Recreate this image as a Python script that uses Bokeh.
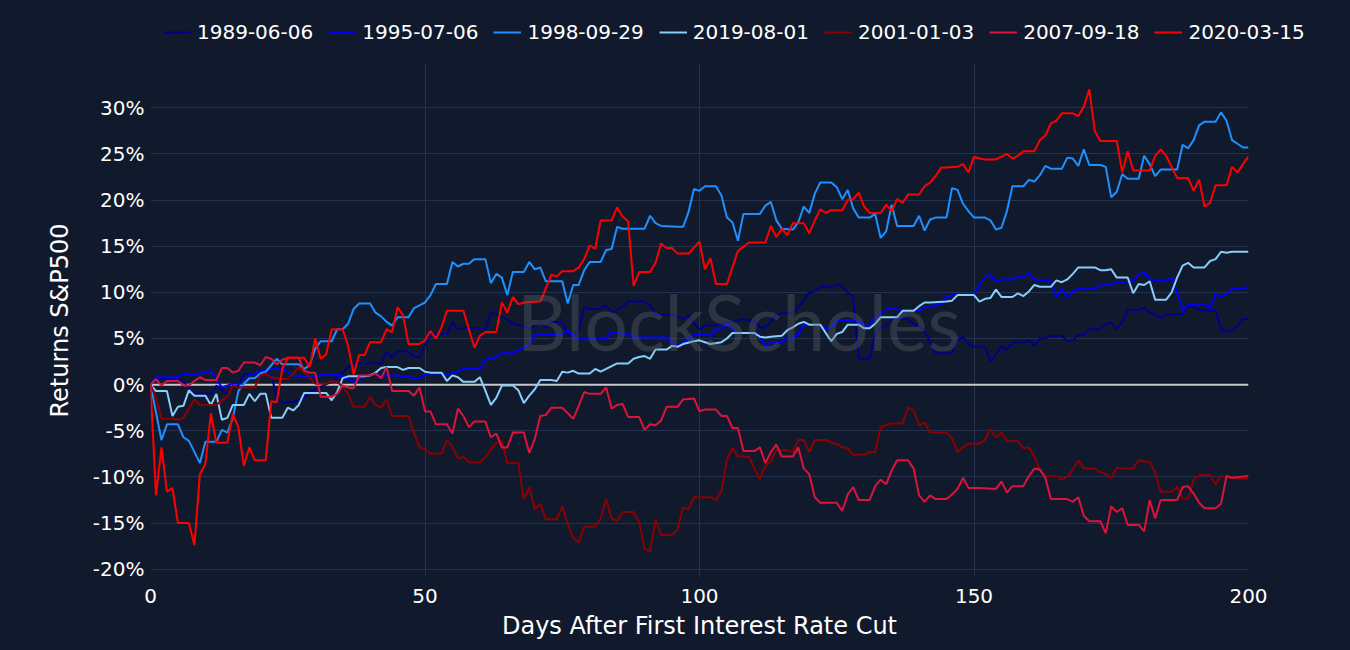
from bokeh.plotting import figure
from bokeh.layouts import column
from bokeh.models import (Legend, LegendItem, Span, Label, PrintfTickFormatter,
                          FixedTicker, Range1d)
from bokeh.embed import file_html
from bokeh.resources import INLINE

BG = "#111a2c"
GRID = "#25324f"
FONT = "DejaVu Sans"

series_names = ["1989-06-06", "1995-07-06", "1998-09-29", "2019-08-01",
                "2001-01-03", "2007-09-18", "2020-03-15"]
series_colors = ["#00008B", "#0000FF", "#1E90FF", "#87CEFA",
                 "#8B0000", "#DC143C", "#FF0000"]

x_ticks = [0, 50, 100, 150, 200]
y_ticks = [-20, -15, -10, -5, 0, 5, 10, 15, 20, 25, 30]

days_1989 = [0, 1, 5, 6, 8, 11, 12, 14, 15, 16, 17, 20, 22, 23, 24, 26, 28, 29, 30, 33, 35, 36, 38, 40, 41, 42, 43, 44, 45, 47, 48, 49, 50, 51, 54, 55, 56, 58, 61, 62, 63, 65, 66, 68, 69, 70, 71, 72, 73, 75, 76, 77, 78, 79, 80, 82, 83, 84, 85, 86, 87, 90, 91, 92, 95, 96, 97, 98, 99, 100, 101, 103, 104, 106, 108, 110, 111, 112, 113, 114, 115, 117, 118, 119, 120, 121, 122, 124, 125, 126, 127, 128, 129, 131, 132, 133, 134, 135, 138, 139, 140, 141, 142, 143, 146, 147, 148, 149, 150, 152, 153, 154, 155, 156, 157, 159, 160, 161, 162, 163, 164, 166, 167, 168, 169, 170, 171, 173, 174, 175, 176, 177, 178, 180, 181, 182, 183, 184, 185, 188, 189, 190, 191, 192, 194, 195, 196, 197, 198, 199, 200]
ret_1989 = [0, 0.6, 0.6, 0.3, -1.0, -1.0, -0.1, -1.0, -0.3, -0.1, 1.1, 1.2, 1.1, -1.4, -1.9, -1.9, -1.4, -0.8, -0.5, 0.3, 1.3, 1.9, 2.3, 2.3, 2.4, 2.2, 3.6, 2.9, 3.6, 3.6, 3.0, 3.0, 4.2, 5.4, 5.5, 6.8, 6.0, 6.2, 6.0, 7.7, 7.7, 7.0, 6.6, 6.3, 6.0, 6.4, 6.7, 6.2, 6.8, 6.8, 5.5, 5.3, 5.9, 8.4, 8.2, 8.2, 8.6, 7.8, 8.1, 8.4, 9.0, 9.0, 8.6, 7.6, 7.6, 7.4, 7.1, 7.5, 6.6, 6.0, 6.4, 6.4, 6.6, 6.8, 7.1, 6.9, 6.2, 6.2, 6.8, 7.6, 7.7, 7.8, 8.4, 9.1, 10.0, 10.1, 10.6, 10.6, 10.9, 10.7, 10.0, 9.5, 2.8, 2.8, 5.5, 6.2, 6.4, 7.1, 7.1, 6.6, 6.3, 5.9, 4.6, 3.4, 3.4, 4.8, 5.2, 4.4, 4.1, 4.1, 2.5, 3.3, 4.2, 3.8, 4.6, 4.6, 4.8, 4.2, 5.0, 5.0, 5.3, 5.3, 4.7, 4.8, 5.4, 5.4, 6.0, 6.0, 6.6, 6.7, 6.0, 6.8, 8.1, 8.1, 8.3, 7.8, 7.6, 7.2, 7.6, 7.6, 8.6, 8.4, 8.1, 8.0, 8.0, 6.0, 5.7, 5.9, 6.4, 7.1, 7.1]

days_1995 = [0, 1, 5, 6, 8, 11, 12, 13, 15, 17, 18, 19, 20, 22, 24, 25, 26, 28, 30, 32, 34, 36, 37, 38, 40, 41, 42, 45, 46, 47, 48, 49, 50, 51, 53, 54, 55, 56, 57, 60, 61, 63, 64, 66, 67, 68, 69, 70, 74, 75, 76, 77, 78, 83, 84, 85, 87, 88, 94, 95, 96, 97, 98, 99, 101, 102, 103, 104, 105, 106, 107, 110, 111, 112, 113, 115, 116, 117, 118, 119, 122, 123, 124, 125, 126, 129, 130, 131, 132, 133, 134, 136, 137, 140, 141, 142, 144, 145, 146, 150, 151, 152, 153, 154, 155, 157, 158, 159, 160, 161, 164, 165, 166, 167, 168, 169, 172, 173, 175, 176, 178, 179, 180, 181, 182, 183, 185, 186, 187, 188, 189, 192, 193, 194, 195, 196, 197, 199, 200]
ret_1995 = [0, 0.8, 0.8, 1.2, 1.1, 1.5, 0.6, -0.3, 0.1, 0.1, 1.0, 1.2, 1.5, 1.7, 1.7, 1.4, 1.0, 0.9, 0.9, 1.1, 1.1, 0.6, 0.3, 0.6, 1.0, 1.2, 1.0, 1.0, 0.8, 1.0, 0.6, 0.7, 1.1, 1.2, 1.2, 1.0, 1.3, 1.4, 1.7, 1.7, 2.7, 3.0, 3.4, 3.4, 3.7, 4.0, 4.4, 5.4, 5.4, 5.5, 5.9, 5.2, 5.0, 5.0, 5.7, 5.6, 5.5, 5.1, 5.1, 4.5, 4.2, 4.5, 5.0, 5.4, 5.4, 5.3, 6.0, 6.0, 6.6, 6.0, 5.7, 5.7, 5.3, 4.1, 4.6, 4.6, 5.1, 5.0, 5.5, 6.5, 6.5, 6.0, 6.2, 6.9, 7.0, 7.0, 6.4, 6.4, 7.3, 7.7, 8.2, 8.2, 8.0, 8.0, 8.4, 8.5, 8.7, 9.5, 9.7, 9.7, 10.9, 11.6, 11.9, 11.2, 11.4, 11.4, 11.7, 11.6, 12.1, 11.4, 11.2, 9.5, 10.4, 9.4, 10.1, 10.4, 10.4, 10.8, 10.8, 11.1, 11.1, 11.2, 12.0, 12.1, 11.5, 11.3, 11.3, 11.6, 10.0, 8.0, 8.7, 8.7, 8.3, 9.8, 9.5, 9.8, 10.4, 10.4, 10.6]

days_1998 = [0, 2, 3, 5, 6, 7, 9, 10, 12, 13, 14, 15, 16, 17, 18, 19, 20, 21, 22, 23, 24, 27, 28, 29, 30, 31, 33, 34, 35, 36, 37, 38, 40, 41, 42, 43, 44, 45, 47, 48, 49, 50, 51, 52, 54, 55, 56, 57, 58, 59, 61, 62, 63, 64, 65, 66, 68, 69, 70, 71, 72, 75, 76, 77, 78, 79, 80, 82, 83, 84, 85, 86, 90, 91, 92, 93, 96, 97, 98, 99, 100, 101, 103, 104, 105, 106, 107, 108, 111, 112, 113, 114, 115, 117, 118, 119, 120, 121, 122, 124, 125, 126, 127, 128, 129, 131, 132, 133, 134, 135, 136, 139, 140, 141, 142, 143, 145, 146, 147, 148, 149, 150, 152, 153, 154, 155, 156, 157, 159, 160, 161, 162, 163, 164, 166, 167, 168, 169, 170, 171, 173, 174, 175, 176, 177, 178, 180, 181, 182, 183, 184, 187, 188, 189, 190, 191, 192, 194, 195, 196, 197, 198, 199, 200]
ret_1998 = [0, -6.0, -4.3, -4.3, -5.7, -6.1, -8.5, -6.2, -6.2, -4.9, -5.2, -3.6, -0.7, 0.1, 0.7, 0.7, 1.2, 1.4, 2.1, 2.8, 2.2, 2.2, 1.7, 2.1, 3.9, 4.7, 4.7, 6.0, 6.0, 6.6, 8.2, 8.8, 8.8, 7.8, 7.4, 6.8, 6.4, 7.3, 7.3, 8.3, 8.6, 8.9, 9.7, 10.9, 10.9, 13.3, 12.8, 13.1, 13.1, 13.6, 13.6, 11.0, 12.0, 11.6, 9.7, 12.2, 12.2, 13.3, 12.5, 12.7, 11.2, 11.2, 8.8, 10.8, 10.8, 12.4, 13.3, 13.3, 14.6, 14.7, 17.1, 16.9, 16.9, 18.3, 17.5, 17.2, 17.1, 17.1, 18.7, 21.2, 21.0, 21.5, 21.5, 20.5, 18.1, 17.6, 15.6, 18.5, 18.5, 19.4, 19.8, 17.8, 16.9, 16.8, 17.6, 19.3, 18.6, 20.7, 21.9, 21.9, 21.4, 20.1, 21.1, 19.1, 18.1, 18.1, 18.5, 15.9, 16.6, 19.5, 17.2, 17.2, 18.3, 16.7, 17.9, 18.1, 18.1, 21.3, 21.1, 19.6, 18.8, 18.1, 18.1, 17.8, 16.8, 17.0, 18.8, 21.5, 21.5, 22.2, 22.0, 22.7, 23.7, 23.4, 23.4, 24.6, 24.5, 23.7, 25.5, 23.8, 23.8, 23.6, 20.3, 20.9, 22.8, 22.3, 22.3, 24.8, 23.9, 22.6, 23.3, 23.3, 26.0, 25.6, 26.5, 28.1, 28.5, 28.5, 29.5, 28.6, 26.5, 26.1, 25.7, 25.7]

days_2019 = [0, 1, 3, 4, 5, 6, 7, 8, 10, 11, 12, 13, 14, 15, 17, 18, 19, 20, 21, 22, 24, 25, 26, 27, 28, 32, 33, 34, 35, 36, 39, 40, 41, 42, 43, 45, 46, 47, 49, 50, 51, 53, 54, 55, 56, 57, 59, 60, 61, 62, 63, 64, 66, 67, 68, 69, 70, 71, 73, 74, 75, 76, 77, 78, 80, 81, 82, 83, 84, 85, 87, 88, 89, 90, 91, 92, 94, 95, 96, 97, 99, 100, 101, 102, 104, 105, 106, 110, 111, 112, 113, 115, 116, 117, 118, 119, 120, 122, 123, 124, 125, 126, 127, 129, 130, 131, 132, 133, 136, 137, 139, 140, 141, 142, 145, 146, 147, 150, 151, 152, 153, 154, 155, 157, 158, 159, 160, 161, 162, 164, 165, 166, 167, 168, 169, 172, 173, 174, 175, 176, 178, 179, 180, 181, 182, 183, 185, 186, 187, 188, 189, 190, 192, 193, 194, 195, 196, 197, 200]
ret_2019 = [0, -0.7, -0.7, -3.4, -2.4, -2.3, -0.6, -1.2, -1.2, -2.2, -1.0, -3.8, -3.6, -2.2, -2.2, -1.0, -1.8, -1.0, -1.0, -3.6, -3.6, -2.5, -2.8, -2.2, -0.9, -0.9, -1.7, -0.8, 0.7, 0.9, 0.9, 1.0, 1.3, 1.8, 1.9, 1.9, 1.6, 1.8, 1.8, 1.4, 1.3, 1.3, 0.4, 1.0, 0.8, 0.3, 0.3, 0.8, -0.65, -2.2, -1.4, -0.1, -0.1, -0.6, -2.0, -1.2, -0.5, 0.5, 0.5, 0.4, 1.4, 1.3, 1.5, 1.2, 1.2, 1.7, 1.4, 1.7, 2.0, 2.3, 2.3, 2.8, 3.0, 3.1, 2.8, 3.8, 3.8, 4.2, 4.1, 4.4, 4.7, 4.8, 4.6, 4.4, 4.6, 5.0, 5.6, 5.6, 5.2, 5.1, 5.2, 5.3, 5.9, 6.2, 6.6, 6.8, 6.5, 6.5, 5.6, 4.7, 5.5, 5.7, 6.5, 6.5, 6.1, 6.1, 6.6, 7.3, 7.3, 8.0, 8.0, 8.5, 8.9, 8.9, 9.0, 9.1, 9.7, 9.7, 9.0, 9.3, 9.4, 10.3, 9.5, 9.5, 9.9, 9.6, 10.1, 10.8, 10.6, 10.6, 11.3, 11.1, 11.4, 12.0, 12.7, 12.7, 12.4, 12.4, 12.5, 11.6, 11.6, 9.9, 10.9, 10.8, 11.2, 9.2, 9.2, 10.0, 11.6, 12.9, 13.2, 12.7, 12.7, 13.4, 13.6, 14.4, 14.3, 14.4, 14.4]

days_2001 = [0, 1, 2, 4, 5, 6, 7, 8, 9, 12, 13, 14, 15, 16, 19, 20, 21, 22, 24, 25, 26, 27, 28, 29, 30, 32, 33, 34, 35, 36, 37, 39, 40, 41, 42, 43, 44, 47, 48, 49, 50, 51, 53, 54, 55, 56, 57, 58, 60, 61, 62, 63, 64, 65, 67, 68, 69, 70, 71, 72, 74, 75, 76, 77, 78, 79, 81, 82, 83, 84, 85, 86, 88, 89, 90, 91, 92, 93, 95, 96, 97, 98, 99, 102, 103, 104, 105, 106, 107, 109, 110, 111, 112, 113, 114, 116, 117, 118, 119, 120, 121, 123, 124, 125, 126, 127, 128, 130, 131, 132, 133, 134, 135, 137, 138, 139, 140, 141, 142, 145, 146, 147, 148, 149, 151, 152, 153, 154, 155, 156, 158, 159, 160, 161, 162, 163, 165, 166, 167, 168, 169, 170, 172, 173, 174, 175, 176, 177, 179, 180, 182, 183, 184, 186, 187, 188, 189, 190, 191, 193, 194, 195, 196, 198, 200]
ret_2001 = [0, -1.4, -3.7, -3.7, -3.8, -3.6, -2.6, -1.6, -2.2, -2.2, -1.7, -1.3, -0.1, -0.3, -0.3, 1.0, 1.2, 0.8, 0.6, 0.6, 1.2, 1.9, 1.3, 0.8, 0.1, 0.1, 0.4, 0.3, -0.2, -1.0, -2.4, -2.4, -1.3, -2.2, -2.5, -1.6, -3.4, -3.4, -5.2, -6.8, -7.0, -7.5, -7.5, -6.0, -6.8, -8.0, -7.8, -8.4, -8.4, -7.9, -7.0, -6.3, -6.1, -8.5, -8.5, -12.4, -11.1, -13.5, -12.9, -14.6, -14.6, -13.2, -15.1, -16.6, -17.1, -15.4, -15.4, -14.5, -12.4, -14.5, -14.8, -13.8, -13.8, -14.9, -17.8, -18.1, -14.6, -16.3, -16.3, -15.7, -13.3, -13.5, -12.2, -12.2, -12.5, -11.5, -8.1, -6.9, -7.8, -7.8, -9.1, -10.2, -8.8, -8.3, -7.1, -7.1, -7.3, -6.0, -6.0, -7.3, -6.0, -6.0, -6.3, -6.4, -6.8, -6.9, -7.6, -7.6, -7.3, -7.3, -4.6, -4.4, -4.2, -4.2, -2.5, -2.8, -4.4, -4.1, -5.2, -5.2, -5.8, -7.3, -6.8, -6.4, -6.4, -6.0, -4.8, -5.7, -5.2, -6.1, -6.1, -6.9, -6.8, -7.8, -9.3, -9.9, -9.9, -10.3, -10.0, -9.2, -8.2, -9.1, -9.1, -9.5, -9.7, -10.1, -9.0, -9.1, -9.1, -8.2, -8.4, -9.5, -11.6, -11.6, -11.1, -12.3, -12.4, -10.3, -9.8, -9.8, -10.8, -9.9, -10.0, -10.2, -10.2]

days_2007 = [0, 1, 2, 3, 5, 6, 7, 8, 9, 10, 12, 13, 14, 15, 16, 17, 19, 20, 21, 22, 23, 24, 25, 27, 28, 29, 30, 31, 33, 34, 35, 36, 37, 38, 40, 41, 42, 43, 44, 47, 48, 49, 50, 51, 52, 54, 55, 56, 57, 58, 59, 61, 62, 63, 64, 65, 66, 68, 69, 70, 71, 72, 73, 75, 76, 77, 78, 79, 80, 82, 83, 84, 85, 86, 87, 89, 90, 91, 92, 93, 94, 96, 97, 99, 100, 101, 103, 104, 105, 106, 107, 108, 110, 111, 112, 113, 114, 115, 117, 118, 119, 120, 121, 122, 125, 126, 127, 128, 129, 131, 132, 133, 134, 135, 136, 138, 139, 140, 141, 142, 143, 145, 146, 147, 148, 149, 151, 154, 155, 156, 157, 159, 160, 161, 162, 163, 164, 167, 168, 169, 170, 171, 173, 174, 175, 176, 177, 178, 180, 181, 182, 183, 184, 187, 188, 189, 190, 191, 192, 194, 195, 196, 197, 200]
ret_2007 = [0, 0.6, -0.1, 0.4, 0.4, -0.1, -0.1, 0.4, 0.8, 0.5, 0.5, 1.8, 1.8, 1.3, 1.5, 2.4, 2.4, 2.1, 3.0, 2.8, 2.2, 2.7, 2.9, 2.9, 1.5, 1.3, 1.3, -1.3, -1.3, -1.0, -0.1, -0.3, -0.4, 1.0, 1.0, 1.2, 0.7, 1.9, -0.7, -0.7, -1.2, -0.3, -2.9, -2.9, -4.3, -4.3, -5.3, -2.6, -3.4, -4.6, -4.0, -4.0, -5.7, -5.3, -6.8, -6.8, -5.2, -5.2, -7.4, -5.9, -3.4, -3.3, -2.5, -2.5, -3.1, -3.7, -2.3, -0.8, -1.0, -1.0, -0.3, -2.6, -2.2, -2.1, -3.5, -3.5, -4.9, -4.3, -4.4, -3.9, -2.4, -2.4, -1.6, -1.5, -2.9, -2.7, -2.7, -3.4, -3.4, -4.7, -4.7, -7.2, -7.2, -6.8, -8.5, -7.3, -6.5, -7.8, -7.8, -6.8, -9.1, -9.7, -12.2, -12.8, -12.8, -13.7, -11.9, -11.1, -12.5, -12.5, -11.0, -10.3, -10.8, -9.3, -8.2, -8.2, -9.1, -12.0, -12.7, -12.0, -12.4, -12.4, -11.9, -11.3, -10.1, -11.2, -11.2, -11.3, -10.5, -11.7, -11.0, -11.0, -9.9, -9.1, -9.2, -10.1, -12.4, -12.4, -12.7, -12.2, -14.2, -14.8, -14.8, -16.1, -13.2, -13.8, -13.4, -15.2, -15.2, -15.9, -12.5, -14.5, -12.5, -12.5, -11.1, -11.0, -11.8, -12.8, -13.4, -13.4, -12.9, -9.9, -10.1, -9.9]

days_2020 = [0, 1, 2, 3, 4, 5, 7, 8, 9, 10, 11, 12, 14, 15, 16, 17, 18, 19, 21, 22, 23, 24, 25, 28, 29, 30, 31, 32, 33, 35, 36, 37, 38, 39, 40, 42, 43, 44, 45, 46, 47, 49, 50, 51, 52, 53, 54, 57, 58, 59, 60, 61, 63, 64, 65, 66, 67, 68, 71, 72, 73, 74, 75, 77, 78, 79, 80, 81, 82, 84, 85, 86, 87, 88, 89, 91, 92, 93, 94, 95, 96, 98, 100, 101, 102, 103, 105, 106, 107, 109, 112, 113, 114, 115, 116, 117, 119, 120, 121, 122, 123, 124, 126, 127, 128, 129, 130, 131, 133, 134, 135, 136, 137, 138, 140, 141, 142, 143, 144, 147, 148, 149, 150, 151, 152, 154, 155, 156, 157, 158, 159, 161, 162, 163, 164, 165, 166, 168, 169, 170, 171, 172, 173, 176, 177, 178, 179, 182, 183, 184, 185, 186, 187, 189, 190, 191, 192, 193, 194, 196, 197, 198, 199, 200]
ret_2020 = [0, -12.0, -6.8, -11.6, -11.2, -15.0, -15.0, -17.4, -9.7, -8.6, -3.1, -6.3, -6.3, -3.2, -4.6, -8.8, -6.8, -8.2, -8.2, -1.8, -1.9, 1.7, 2.9, 2.9, 1.9, 5.0, 2.8, 3.3, 6.0, 6.0, 4.2, 1.1, 3.2, 3.2, 4.6, 4.6, 6.0, 5.7, 8.4, 7.5, 4.4, 4.4, 4.8, 5.8, 5.0, 6.2, 8.0, 8.0, 6.0, 4.0, 5.3, 5.7, 5.7, 8.9, 7.8, 9.5, 8.7, 8.9, 9.0, 10.4, 11.9, 11.7, 12.3, 12.3, 12.7, 13.6, 15.1, 14.7, 17.8, 17.8, 19.2, 18.2, 17.7, 10.7, 12.2, 12.2, 13.2, 15.3, 14.8, 14.8, 14.2, 14.2, 15.5, 12.5, 13.7, 10.9, 10.9, 12.7, 14.5, 15.4, 15.4, 17.2, 16.0, 16.9, 16.2, 17.5, 17.5, 16.4, 17.8, 19.0, 18.6, 18.9, 18.9, 20.0, 20.1, 20.8, 19.3, 18.6, 18.6, 19.5, 18.8, 20.1, 19.7, 20.6, 20.6, 21.5, 21.9, 22.6, 23.5, 23.6, 23.9, 23.0, 24.7, 24.5, 24.4, 24.4, 24.7, 25.0, 24.5, 24.8, 25.3, 25.3, 26.5, 27.0, 28.3, 28.6, 29.4, 29.4, 29.1, 30.1, 32.0, 27.5, 26.4, 26.4, 23.0, 25.3, 23.2, 23.2, 24.8, 25.5, 24.8, 23.6, 22.4, 22.4, 21.0, 22.2, 19.3, 19.7, 21.6, 21.6, 23.6, 23.0, 23.9, 24.7]

all_days = [days_1989, days_1995, days_1998, days_2019, days_2001, days_2007, days_2020]
all_rets = [ret_1989, ret_1995, ret_1998, ret_2019, ret_2001, ret_2007, ret_2020]

# ---- legend strip: its own small figure above the chart ----
TOP_H = 50
leg_fig = figure(width=1350, height=TOP_H, output_backend="svg", toolbar_location=None,
                 x_range=Range1d(0, 1), y_range=Range1d(0, 1),
                 x_axis_type=None, y_axis_type=None,
                 min_border_left=0, min_border_right=0, min_border_top=0,
                 min_border_bottom=0, background_fill_color=BG,
                 border_fill_color=BG, outline_line_color=None)
if "frame_align" in leg_fig.properties():
    leg_fig.frame_align = False
leg_fig.xgrid.visible = False
leg_fig.ygrid.visible = False
nan = float("nan")
# legend proxies only: a single NaN point draws nothing in the strip
leg_renderers = [leg_fig.line([nan], [nan], line_color=c, line_width=2)
                 for c in series_colors]
legend = Legend(items=[LegendItem(label=n, renderers=[rr])
                       for n, rr in zip(series_names, leg_renderers)],
                orientation="horizontal", location=(163, 6),
                glyph_width=28, glyph_height=20, label_standoff=6, spacing=15,
                padding=0, margin=0, background_fill_alpha=0,
                border_line_alpha=0, label_text_color="white",
                label_text_font=FONT, label_text_font_size="20px")
leg_fig.add_layout(legend)

# ---- main chart ----
p = figure(width=1350, height=650 - TOP_H, output_backend="svg", toolbar_location=None,
           x_range=Range1d(0, 200), y_range=Range1d(-20.9, 34.8),
           min_border_left=150, min_border_right=102, min_border_top=63 - TOP_H,
           min_border_bottom=73,
           background_fill_color=BG, border_fill_color=BG, outline_line_color=None)
if "frame_align" in p.properties():
    p.frame_align = False

p.xaxis.ticker = FixedTicker(ticks=x_ticks)
p.yaxis.ticker = FixedTicker(ticks=y_ticks)
p.yaxis.formatter = PrintfTickFormatter(format="%d%%")
for ax in (p.xaxis, p.yaxis):
    ax.axis_line_color = None
    ax.major_tick_line_color = None
    ax.minor_tick_line_color = None
    ax.major_label_text_color = "white"
    ax.major_label_text_font = FONT
    ax.major_label_text_font_size = "20px"
    ax.axis_label_text_color = "white"
    ax.axis_label_text_font = FONT
    ax.axis_label_text_font_size = "24px"
    ax.axis_label_text_font_style = "normal"
p.xaxis.axis_label = "Days After First Interest Rate Cut"
p.yaxis.axis_label = "Returns S&P500"
p.yaxis.major_label_standoff = 0
p.xaxis.major_label_standoff = 5
p.yaxis.axis_label_standoff = 16
p.xaxis.axis_label_standoff = 6

p.xgrid.grid_line_color = GRID
p.ygrid.grid_line_color = GRID
p.xgrid.grid_line_width = 1
p.ygrid.grid_line_width = 1

p.add_layout(Span(location=0, dimension="width", line_color="#c8c8cc",
                  line_width=2, level="underlay"))

for d, r, c in zip(all_days, all_rets, series_colors):
    p.line(d, r, line_color=c, line_width=2)

p.add_layout(Label(x=107.2, y=6.9, text="BlockScholes", text_align="center",
                   text_baseline="middle", text_font="Lato",
                   text_font_size="77px", text_color="#5c5f66", text_alpha=0.38))

layout = column(leg_fig, p, spacing=0)
html = file_html(layout, INLINE)
html = html.replace("</head>", "<style>html,body{background:%s;}</style></head>" % BG, 1)
open("out.html", "w").write(html)
